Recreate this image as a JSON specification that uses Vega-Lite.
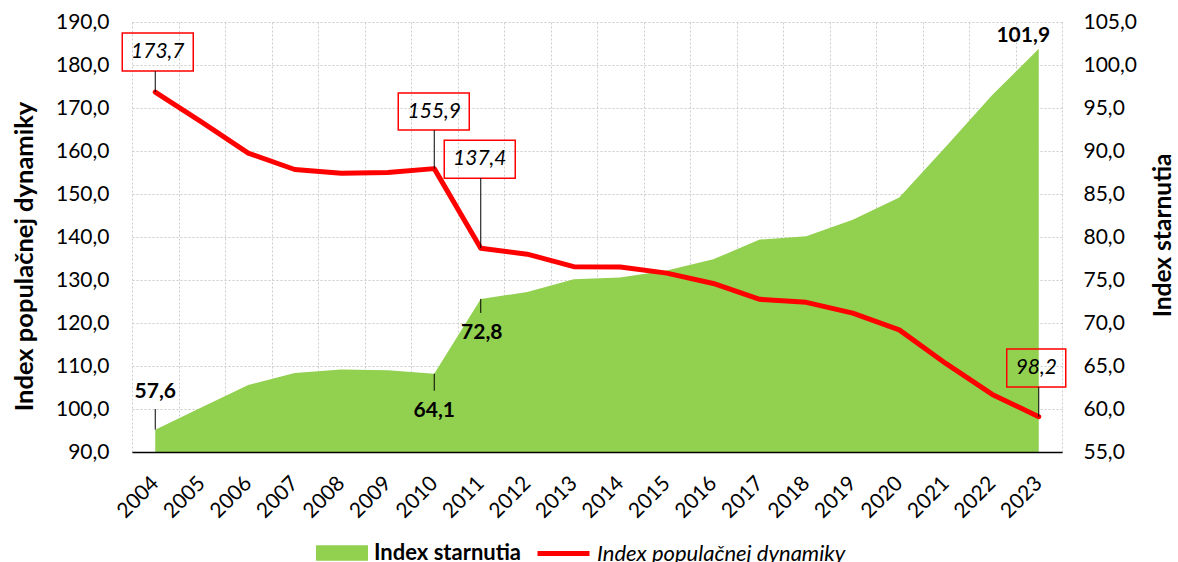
{
  "$schema": "https://vega.github.io/schema/vega-lite/v6.json",
  "width": 930,
  "height": 430,
  "autosize": "none",
  "padding": {"left": 132, "top": 22, "right": 116, "bottom": 110},
  "background": "white",
  "config": {
    "locale": {"number": {"decimal": ",", "thousands": " ", "grouping": [3], "currency": ["", " €"]}},
    "view": {"stroke": null},
    "font": "Lato",
    "axis": {"labelFont": "Lato", "titleFont": "Lato", "labelFontSize": 21, "titleFontSize": 24.5, "labelColor": "#000000", "titleColor": "#000000"},
    "legend": {"labelFont": "Lato", "labelFontSize": 22, "labelColor": "#000000", "labelLimit": 400, "padding": 0},
    "text": {"font": "Lato", "fontSize": 21, "color": "#000000"}
  },
  "data": {"values": [
    {"year": 2004, "starnutia": 57.6, "dynamika": 173.7},
    {"year": 2005, "starnutia": 60.2, "dynamika": 166.7},
    {"year": 2006, "starnutia": 62.8, "dynamika": 159.5},
    {"year": 2007, "starnutia": 64.2, "dynamika": 155.7},
    {"year": 2008, "starnutia": 64.6, "dynamika": 154.8},
    {"year": 2009, "starnutia": 64.5, "dynamika": 155.0},
    {"year": 2010, "starnutia": 64.1, "dynamika": 155.9},
    {"year": 2011, "starnutia": 72.8, "dynamika": 137.4},
    {"year": 2012, "starnutia": 73.6, "dynamika": 136.0},
    {"year": 2013, "starnutia": 75.1, "dynamika": 133.1},
    {"year": 2014, "starnutia": 75.3, "dynamika": 133.0},
    {"year": 2015, "starnutia": 76.1, "dynamika": 131.6},
    {"year": 2016, "starnutia": 77.4, "dynamika": 129.2},
    {"year": 2017, "starnutia": 79.7, "dynamika": 125.5},
    {"year": 2018, "starnutia": 80.1, "dynamika": 124.8},
    {"year": 2019, "starnutia": 82.0, "dynamika": 122.3},
    {"year": 2020, "starnutia": 84.6, "dynamika": 118.4},
    {"year": 2021, "starnutia": 90.5, "dynamika": 110.6},
    {"year": 2022, "starnutia": 96.5, "dynamika": 103.4},
    {"year": 2023, "starnutia": 101.9, "dynamika": 98.2}
  ]},
  "resolve": {"scale": {"y": "independent"}, "axis": {"x": "independent"}},
  "layer": [
    {
      "encoding": {
        "x": {"field": "year", "type": "quantitative",
          "scale": {"domain": [2003.5, 2023.5], "nice": false, "zero": false},
          "axis": {"orient": "bottom", "values": [2003.5, 2004.5, 2005.5, 2006.5, 2007.5, 2008.5, 2009.5, 2010.5, 2011.5, 2012.5, 2013.5, 2014.5, 2015.5, 2016.5, 2017.5, 2018.5, 2019.5, 2020.5, 2021.5, 2022.5, 2023.5],
            "grid": true, "gridColor": "#cccccc", "gridDash": [2, 2], "gridWidth": 1, "labels": false, "ticks": false, "domain": false, "title": null, "zindex": 0}},
        "y": {"field": "starnutia", "type": "quantitative",
          "scale": {"domain": [55, 105], "nice": false, "zero": false},
          "axis": {"orient": "right", "values": [55, 60, 65, 70, 75, 80, 85, 90, 95, 100, 105], "format": ".1f", "grid": false, "domain": false, "ticks": false, "labelPadding": 21,
            "title": "Index starnutia", "titleFontWeight": "bold", "titleAngle": 270, "titleX": 101, "titleY": 213, "titleAlign": "center", "titleBaseline": "middle"}}
      },
      "layer": [
        {"mark": {"type": "area", "opacity": 1},
          "encoding": {
            "y2": {"datum": 55},
            "fill": {"datum": "Index starnutia", "type": "nominal",
              "scale": {"domain": ["Index starnutia"], "range": ["#92d050"]},
              "legend": {"orient": "none", "legendX": 184, "legendY": 505, "direction": "horizontal", "title": null,
                "labelFontWeight": "bold", "symbolSize": 2704, "symbolType": "M-1,-0.3H1V0.3H-1Z", "symbolStrokeWidth": 0, "symbolOpacity": 1, "labelOffset": 6}}
          }},
        {"transform": [{"filter": "datum.year == 2004"}],
          "layer": [
            {"mark": {"type": "text", "fontWeight": "bold", "dy": -38}, "encoding": {"text": {"field": "starnutia", "format": ".1f"}}},
            {"mark": {"type": "rule", "color": "#000000", "strokeWidth": 1, "yOffset": -20.6, "y2Offset": 0}, "encoding": {"y2": {"field": "starnutia"}}}
          ]},
        {"transform": [{"filter": "datum.year == 2010"}],
          "layer": [
            {"mark": {"type": "text", "fontWeight": "bold", "dy": 37}, "encoding": {"text": {"field": "starnutia", "format": ".1f"}}},
            {"mark": {"type": "rule", "color": "#000000", "strokeWidth": 1, "yOffset": 0, "y2Offset": 17}, "encoding": {"y2": {"field": "starnutia"}}}
          ]},
        {"transform": [{"filter": "datum.year == 2011"}],
          "layer": [
            {"mark": {"type": "text", "fontWeight": "bold", "dx": 1, "dy": 34.5}, "encoding": {"text": {"field": "starnutia", "format": ".1f"}}},
            {"mark": {"type": "rule", "color": "#000000", "strokeWidth": 1, "yOffset": 0, "y2Offset": 14}, "encoding": {"y2": {"field": "starnutia"}}}
          ]},
        {"transform": [{"filter": "datum.year == 2023"}],
          "mark": {"type": "text", "fontWeight": "bold", "dx": -15.5, "dy": -12.7}, "encoding": {"text": {"field": "starnutia", "format": ".1f"}}}
      ]
    },
    {
      "encoding": {
        "x": {"field": "year", "type": "quantitative",
          "scale": {"domain": [2003.5, 2023.5], "nice": false, "zero": false},
          "axis": {"orient": "bottom", "values": [2004, 2005, 2006, 2007, 2008, 2009, 2010, 2011, 2012, 2013, 2014, 2015, 2016, 2017, 2018, 2019, 2020, 2021, 2022, 2023],
            "format": "d", "labelAngle": -45, "labelAlign": "right", "labelBaseline": "middle", "labelOverlap": false, "labelFlush": false, "ticks": false, "tickSize": 0, "labelPadding": 28,
            "grid": false, "domain": true, "domainColor": "#000000", "domainWidth": 1.5, "title": null, "zindex": 1}},
        "y": {"field": "dynamika", "type": "quantitative",
          "scale": {"domain": [90, 190], "nice": false, "zero": false},
          "axis": {"orient": "left", "values": [90, 100, 110, 120, 130, 140, 150, 160, 170, 180, 190], "format": ".1f",
            "grid": true, "gridColor": "#cccccc", "gridDash": [2, 2], "gridWidth": 1, "domain": false, "ticks": false, "labelPadding": 23,
            "title": "Index populačnej dynamiky", "titleFontSize": 25.5, "titleFontWeight": "bold", "titleAngle": 270, "titleX": -108, "titleY": 234, "titleAlign": "center", "titleBaseline": "middle", "zindex": 0}}
      },
      "layer": [
        {"mark": {"type": "line", "strokeWidth": 5, "strokeJoin": "round", "strokeCap": "round"},
          "encoding": {"stroke": {"datum": "Index populačnej dynamiky", "type": "nominal",
            "scale": {"domain": ["Index populačnej dynamiky"], "range": ["#ff0000"]},
            "legend": {"orient": "none", "legendX": 403, "legendY": 503, "direction": "horizontal", "title": null,
              "labelFontStyle": "italic", "symbolSize": 2704, "symbolType": "stroke", "symbolStrokeWidth": 5, "symbolOpacity": 1, "labelOffset": 5}}}},
        {"transform": [{"filter": "datum.year == 2004"}],
          "layer": [
            {"mark": {"type": "rect", "filled": false, "color": "#ff0000", "strokeWidth": 1.5, "xOffset": -33, "x2Offset": 38, "yOffset": -59, "y2Offset": -21},
              "encoding": {"x2": {"field": "year"}, "y2": {"field": "dynamika"}}},
            {"mark": {"type": "text", "fontStyle": "italic", "dx": 2.5, "dy": -40}, "encoding": {"text": {"field": "dynamika", "format": ".1f"}}},
            {"mark": {"type": "rule", "color": "#000000", "strokeWidth": 1, "yOffset": -21, "y2Offset": 0}, "encoding": {"y2": {"field": "dynamika"}}}
          ]},
        {"transform": [{"filter": "datum.year == 2010"}],
          "layer": [
            {"mark": {"type": "rect", "filled": false, "color": "#ff0000", "strokeWidth": 1.5, "xOffset": -36, "x2Offset": 35, "yOffset": -75.6, "y2Offset": -38.6},
              "encoding": {"x2": {"field": "year"}, "y2": {"field": "dynamika"}}},
            {"mark": {"type": "text", "fontStyle": "italic", "dx": 0, "dy": -57}, "encoding": {"text": {"field": "dynamika", "format": ".1f"}}},
            {"mark": {"type": "rule", "color": "#000000", "strokeWidth": 1, "yOffset": -38.6, "y2Offset": 0}, "encoding": {"y2": {"field": "dynamika"}}}
          ]},
        {"transform": [{"filter": "datum.year == 2011"}],
          "layer": [
            {"mark": {"type": "rect", "filled": false, "color": "#ff0000", "strokeWidth": 1.5, "xOffset": -36.5, "x2Offset": 34.5, "yOffset": -108, "y2Offset": -70},
              "encoding": {"x2": {"field": "year"}, "y2": {"field": "dynamika"}}},
            {"mark": {"type": "text", "fontStyle": "italic", "dx": -1, "dy": -89}, "encoding": {"text": {"field": "dynamika", "format": ".1f"}}},
            {"mark": {"type": "rule", "color": "#000000", "strokeWidth": 1, "yOffset": -70, "y2Offset": 0}, "encoding": {"y2": {"field": "dynamika"}}}
          ]},
        {"transform": [{"filter": "datum.year == 2023"}],
          "layer": [
            {"mark": {"type": "rect", "filled": false, "color": "#ff0000", "strokeWidth": 1.5, "xOffset": -32, "x2Offset": 27, "yOffset": -67.7, "y2Offset": -29.7},
              "encoding": {"x2": {"field": "year"}, "y2": {"field": "dynamika"}}},
            {"mark": {"type": "text", "fontStyle": "italic", "dx": -2.5, "dy": -48.5}, "encoding": {"text": {"field": "dynamika", "format": ".1f"}}},
            {"mark": {"type": "rule", "color": "#000000", "strokeWidth": 1, "yOffset": -29.7, "y2Offset": 0}, "encoding": {"y2": {"field": "dynamika"}}}
          ]}
      ]
    }
  ]
}
